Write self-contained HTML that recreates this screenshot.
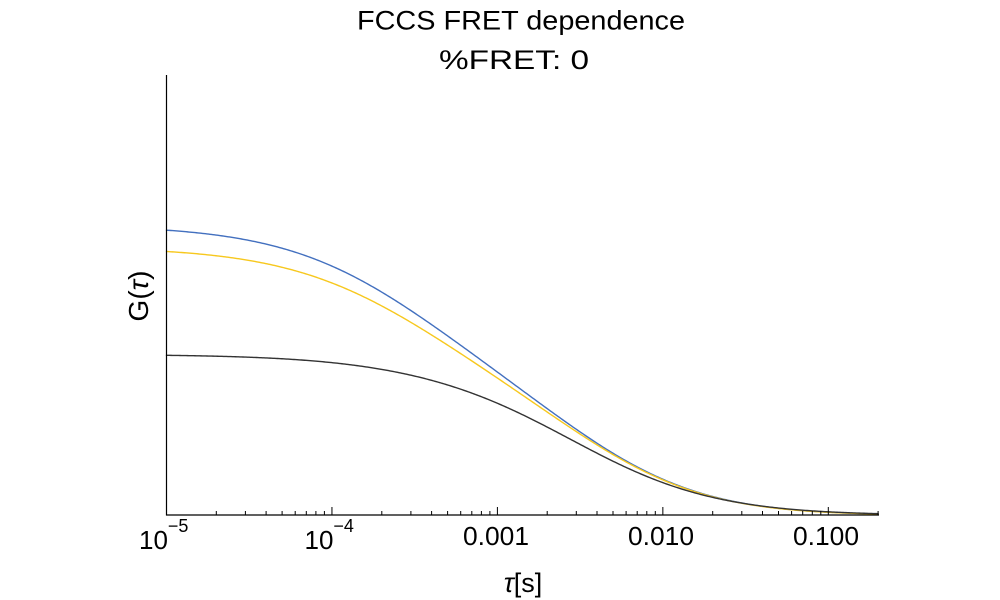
<!DOCTYPE html>
<html>
<head>
<meta charset="utf-8">
<style>
html,body{margin:0;padding:0;background:#fff;}
svg{display:block;}
text{font-family:"Liberation Sans",Arial,sans-serif;fill:#000;}
</style>
</head>
<body>
<svg width="1000" height="600" viewBox="0 0 1000 600" xmlns="http://www.w3.org/2000/svg">
<rect width="1000" height="600" fill="#fff"/>

<!-- Title -->
<text x="357" y="29.5" font-size="27" textLength="328" lengthAdjust="spacingAndGlyphs">FCCS FRET dependence</text>
<text x="439" y="69" font-size="27" textLength="150" lengthAdjust="spacingAndGlyphs">%FRET: 0</text>

<!-- Curves -->
<g fill="none" stroke-width="1.4" stroke-linejoin="round" stroke-linecap="round">
<polyline class="crv" data-init="126,-3.55,160,-2.6" stroke="#4370bf" points="166.5,231.3 200,233.4 226.7,236 260,241.7 293,251.2 327,263.5 340,269.5 360,280.5 383,293.8 407,308.3 433,325.5 455,340.5 473,353.5 495,370.5 517,387.5 540,404 565,421 590,437.5 615,453.5 640,468.5 656,477 673,484.3 690,490.3 707,495.3 740,502.5 773,506.7 800,509.5 828,511.7 855,513.2 878,514.2"/>
<polyline class="crv" data-init="105,-3.5,160,-2.6" stroke="#f7c81e" points="166.5,252.3 200,254.3 226.7,256.7 260,261.7 293,270 327,280.8 340,286 360,295.2 383,307 407,320.5 440,340.5 473,360.8 495,376 517,392.5 540,408 565,423.5 590,439 615,455 640,469.7 656,477.8 673,484.8 690,490.7 707,495.6 740,502.7 773,506.8 800,509.6 828,511.8 855,513.2 878,514.2"/>
<polyline class="crv" data-init="60,-3.0,100,-2.5" stroke="#333333" points="166.5,355.5 226.7,356.5 260,357.7 293,359.4 327,361.9 360,365.7 393,371.5 427,379.5 460,389.3 480,396.3 500,404 520,413.3 540,423.3 565,436.5 590,449.5 615,462 640,474 656,480.3 673,486.2 690,491.4 707,496 740,502.8 773,507 800,509.7 828,511.8 855,513.3 878,514.3"/>
</g>

<!-- Axes -->
<g stroke="#000" stroke-width="1.2" fill="none">
<line x1="166.5" y1="75" x2="166.5" y2="515.5"/>
<line x1="166" y1="515" x2="879" y2="515"/>
</g>

<!-- Ticks -->
<g stroke="#000" stroke-width="1">
<line x1="331.95" y1="515" x2="331.95" y2="507"/>
<line x1="497.4" y1="515" x2="497.4" y2="507"/>
<line x1="662.85" y1="515" x2="662.85" y2="507"/>
<line x1="828.3" y1="515" x2="828.3" y2="507"/>
<line x1="216.3" y1="515" x2="216.3" y2="511"/>
<line x1="245.4" y1="515" x2="245.4" y2="511"/>
<line x1="266.1" y1="515" x2="266.1" y2="511"/>
<line x1="282.1" y1="515" x2="282.1" y2="511"/>
<line x1="295.2" y1="515" x2="295.2" y2="511"/>
<line x1="306.3" y1="515" x2="306.3" y2="511"/>
<line x1="315.9" y1="515" x2="315.9" y2="511"/>
<line x1="324.4" y1="515" x2="324.4" y2="511"/>
<line x1="381.8" y1="515" x2="381.8" y2="511"/>
<line x1="410.9" y1="515" x2="410.9" y2="511"/>
<line x1="431.6" y1="515" x2="431.6" y2="511"/>
<line x1="447.6" y1="515" x2="447.6" y2="511"/>
<line x1="460.7" y1="515" x2="460.7" y2="511"/>
<line x1="471.8" y1="515" x2="471.8" y2="511"/>
<line x1="481.4" y1="515" x2="481.4" y2="511"/>
<line x1="489.9" y1="515" x2="489.9" y2="511"/>
<line x1="547.2" y1="515" x2="547.2" y2="511"/>
<line x1="576.3" y1="515" x2="576.3" y2="511"/>
<line x1="597.0" y1="515" x2="597.0" y2="511"/>
<line x1="613.0" y1="515" x2="613.0" y2="511"/>
<line x1="626.1" y1="515" x2="626.1" y2="511"/>
<line x1="637.2" y1="515" x2="637.2" y2="511"/>
<line x1="646.8" y1="515" x2="646.8" y2="511"/>
<line x1="655.3" y1="515" x2="655.3" y2="511"/>
<line x1="712.7" y1="515" x2="712.7" y2="511"/>
<line x1="741.8" y1="515" x2="741.8" y2="511"/>
<line x1="762.5" y1="515" x2="762.5" y2="511"/>
<line x1="778.5" y1="515" x2="778.5" y2="511"/>
<line x1="791.6" y1="515" x2="791.6" y2="511"/>
<line x1="802.7" y1="515" x2="802.7" y2="511"/>
<line x1="812.3" y1="515" x2="812.3" y2="511"/>
<line x1="820.8" y1="515" x2="820.8" y2="511"/>
<line x1="878.1" y1="515" x2="878.1" y2="511"/>
</g>

<!-- Tick labels -->
<text x="139" y="549" font-size="26">10<tspan font-size="18" dy="-17">−5</tspan></text>
<text x="304.5" y="549" font-size="26">10<tspan font-size="18" dy="-17">−4</tspan></text>
<text x="496" y="545" font-size="26" text-anchor="middle" textLength="66" lengthAdjust="spacingAndGlyphs">0.001</text>
<text x="661" y="545" font-size="26" text-anchor="middle" textLength="66" lengthAdjust="spacingAndGlyphs">0.010</text>
<text x="826" y="545" font-size="26" text-anchor="middle" textLength="66" lengthAdjust="spacingAndGlyphs">0.100</text>

<!-- Axis labels -->
<text x="523" y="592" font-size="27" text-anchor="middle"><tspan font-style="italic">τ</tspan>[s]</text>
<text transform="translate(148,296) rotate(-90)" font-size="28" text-anchor="middle">G(<tspan font-style="italic">τ</tspan>)</text>
</svg>
<script>
(function(){
  function tauOf(x){return Math.pow(10,-5+(x-166.5)/165.45);}
  function G(p,x){
    var t=tauOf(x),k2=Math.pow(10,p[4]),s=0;
    for(var c=0;c<2;c++){
      var A=Math.abs(p[2*c]),T=Math.pow(10,p[2*c+1]),r=t/T;
      s+=A/(1+r)/Math.sqrt(1+r/k2);
    }
    return 515-s;
  }
  function nm(f,x0,steps,iters){
    var n=x0.length,pts=[x0.slice()];
    for(var i=0;i<n;i++){var q=x0.slice();q[i]+=steps[i];pts.push(q);}
    var vals=pts.map(f);
    for(var it=0;it<iters;it++){
      var idx=[];for(i=0;i<=n;i++)idx.push(i);
      idx.sort(function(a,b){return vals[a]-vals[b];});
      var b=idx[0],w=idx[n],sw=idx[n-1];
      var c=new Array(n).fill(0);
      for(i=0;i<n;i++){if(idx[i]===w)continue;}
      for(var j=0;j<=n;j++){if(j===w)continue;for(i=0;i<n;i++)c[i]+=pts[j][i]/n;}
      var xr=c.map(function(v,i){return v+(v-pts[w][i]);}),fr=f(xr);
      if(fr<vals[b]){
        var xe=c.map(function(v,i){return v+2*(v-pts[w][i]);}),fe=f(xe);
        if(fe<fr){pts[w]=xe;vals[w]=fe;}else{pts[w]=xr;vals[w]=fr;}
      }else if(fr<vals[sw]){pts[w]=xr;vals[w]=fr;}
      else{
        var xc=c.map(function(v,i){return v+0.5*(pts[w][i]-v);}),fc=f(xc);
        if(fc<vals[w]){pts[w]=xc;vals[w]=fc;}
        else{
          for(j=0;j<=n;j++){if(j===b)continue;
            pts[j]=pts[j].map(function(v,i){return pts[b][i]+0.5*(v-pts[b][i]);});vals[j]=f(pts[j]);}
        }
      }
    }
    var bi=0;for(i=1;i<=n;i++)if(vals[i]<vals[bi])bi=i;
    return {p:pts[bi],v:vals[bi]};
  }
  function catmull(raw){
    var n=raw.length,out=[];
    for(var i=0;i<n-1;i++){
      var p0=raw[i>0?i-1:0],p1=raw[i],p2=raw[i+1],p3=raw[i+2<n?i+2:n-1];
      for(var s=0;s<10;s++){
        var t=s/10,t2=t*t,t3=t2*t;
        var x=0.5*((2*p1[0])+(-p0[0]+p2[0])*t+(2*p0[0]-5*p1[0]+4*p2[0]-p3[0])*t2+(-p0[0]+3*p1[0]-3*p2[0]+p3[0])*t3);
        var y=0.5*((2*p1[1])+(-p0[1]+p2[1])*t+(2*p0[1]-5*p1[1]+4*p2[1]-p3[1])*t2+(-p0[1]+3*p1[1]-3*p2[1]+p3[1])*t3);
        out.push(x.toFixed(2)+','+y.toFixed(2));
      }
    }
    out.push(raw[n-1][0]+','+raw[n-1][1]);
    return out.join(' ');
  }
  var els=document.querySelectorAll('polyline.crv');
  for(var k=0;k<els.length;k++){
    var el=els[k];
    var raw=el.getAttribute('points').trim().split(/\s+/).map(function(s){var a=s.split(',');return [parseFloat(a[0]),parseFloat(a[1])];});
    var init=el.getAttribute('data-init').split(',').map(parseFloat);init.push(1.4);
    var f=function(p){var e=0;for(var i=0;i<raw.length;i++){var d=G(p,raw[i][0])-raw[i][1];e+=d*d;}return e;};
    var best=nm(f,init,[20,0.3,20,0.3,0.5],4000);
    best=nm(f,best.p,[5,0.1,5,0.1,0.2],3000);
    var rms=Math.sqrt(best.v/raw.length);
    if(isFinite(rms)&&rms<2.2){
      var out=[];
      for(var x=166.5;x<=878.2;x+=1.5){out.push(x.toFixed(1)+','+G(best.p,x).toFixed(2));}
      out.push('878.1,'+G(best.p,878.1).toFixed(2));
      el.setAttribute('points',out.join(' '));
    }else{
      el.setAttribute('points',catmull(raw));
    }
  }
})();
</script>
</body>
</html>
